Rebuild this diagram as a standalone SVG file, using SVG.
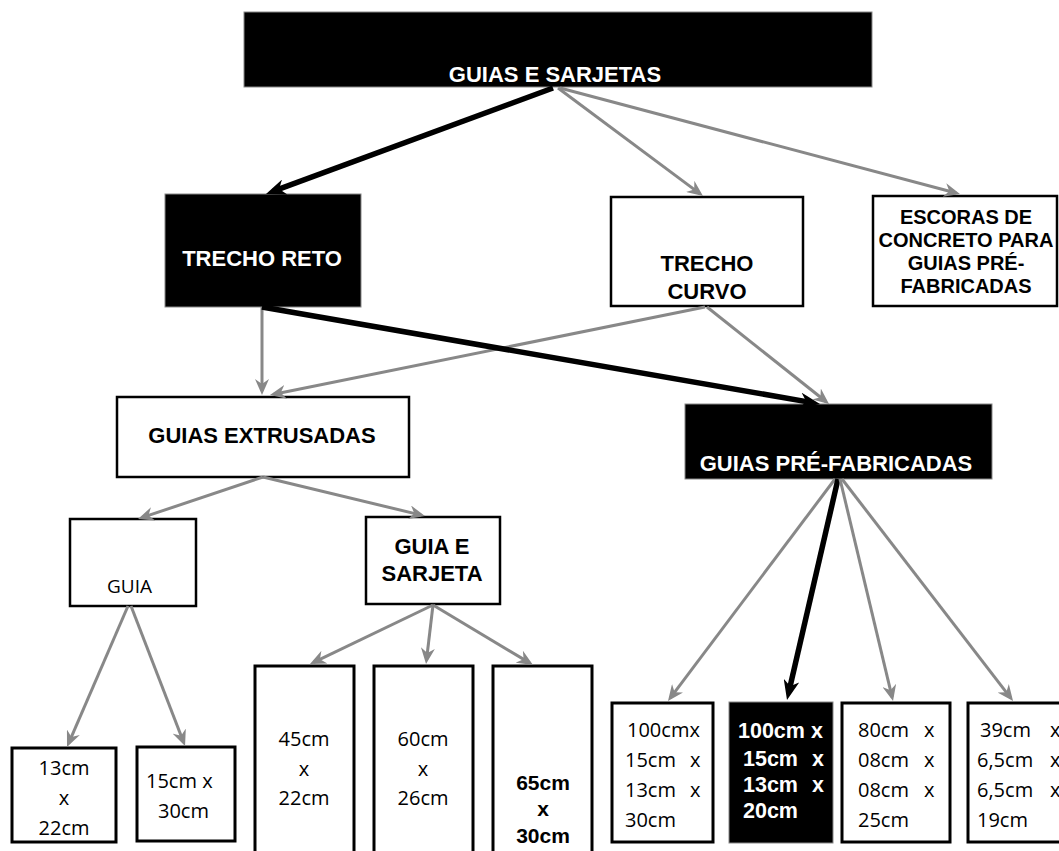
<svg xmlns="http://www.w3.org/2000/svg" width="1059" height="851" viewBox="0 0 1059 851">
<style>
.wb{fill:#fff;stroke:#000;stroke-width:2.5}
.bb{fill:#000;stroke:#888;stroke-width:1}
.hb{font-family:"Liberation Sans",Arial,sans-serif;font-weight:bold;font-size:22px;text-anchor:middle}
.w{fill:#fff}
.k{fill:#000}
.dim{font-family:"Open Sans","Liberation Sans",sans-serif;font-size:20px;fill:#000}
.c{text-anchor:middle}
.bd{font-family:"Liberation Sans",Arial,sans-serif;font-weight:bold;font-size:21px}
.g{fill:none;stroke:#888;stroke-width:3;marker-end:url(#ag)}
.b{fill:none;stroke:#000;stroke-width:5.5;marker-end:url(#ab)}
</style>
<defs>
<marker id="ag" viewBox="0 0 16 14" refX="12" refY="7" markerWidth="16" markerHeight="14" markerUnits="userSpaceOnUse" orient="auto"><path d="M0,0 L16,7 L0,14 L5,7 z" fill="#888"/></marker>
<marker id="ab" viewBox="0 0 20 16" refX="12" refY="8" markerWidth="20" markerHeight="16" markerUnits="userSpaceOnUse" orient="auto"><path d="M0,0 L20,8 L0,16 L6,8 z" fill="#000"/></marker>
</defs>
<rect width="1059" height="851" fill="#fff"/>
<g id="n-guias-sarjetas"><rect class="bb" x="244" y="12" width="628" height="75"/><text class="hb w" x="555" y="82">GUIAS E SARJETAS</text></g>
<g id="n-trecho-reto"><rect class="bb" x="165" y="194" width="196" height="113"/><text class="hb w" x="262" y="266">TRECHO RETO</text></g>
<g id="n-trecho-curvo"><rect class="wb" x="611" y="197" width="192" height="109"/><text class="hb k" x="707" y="271">TRECHO</text><text class="hb k" x="707" y="299">CURVO</text></g>
<g id="n-escoras"><rect class="wb" x="873" y="196" width="184" height="110"/><g class="hb k" style="font-size:20px"><text x="966" y="224">ESCORAS DE</text><text x="966" y="247">CONCRETO PARA</text><text x="966" y="270">GUIAS PRÉ-</text><text x="966" y="293">FABRICADAS</text></g></g>
<g id="n-extrusadas"><rect class="wb" x="117" y="397" width="292" height="80"/><text class="hb k" x="262" y="443">GUIAS EXTRUSADAS</text></g>
<g id="n-prefabricadas"><rect class="bb" x="685" y="404" width="307" height="75"/><text class="hb w" x="836" y="471">GUIAS PRÉ-FABRICADAS</text></g>
<g id="n-guia"><rect class="wb" x="70" y="519" width="126" height="87"/><text class="dim" style="font-size:19px" x="107" y="593">GUIA</text></g>
<g id="n-guia-sarjeta"><rect class="wb" x="366" y="517" width="134" height="87"/><text class="hb k" x="432" y="554">GUIA E</text><text class="hb k" x="432" y="581">SARJETA</text></g>
<g id="n-13x22"><rect class="wb" x="12" y="748" width="104" height="94" style="stroke-width:3"/><g class="dim c"><text x="64" y="775">13cm</text><text x="64" y="805">x</text><text x="64" y="835">22cm</text></g></g>
<g id="n-15x30"><rect class="wb" x="137" y="747" width="98" height="94" style="stroke-width:3"/><g class="dim"><text x="146" y="788">15cm x</text><text x="158" y="818">30cm</text></g></g>
<g id="n-45x22"><rect class="wb" x="255" y="666" width="99" height="200" style="stroke-width:3"/><g class="dim c"><text x="304" y="746">45cm</text><text x="304" y="776">x</text><text x="304" y="805">22cm</text></g></g>
<g id="n-60x26"><rect class="wb" x="374" y="666" width="99" height="200" style="stroke-width:3"/><g class="dim c"><text x="423" y="746">60cm</text><text x="423" y="776">x</text><text x="423" y="805">26cm</text></g></g>
<g id="n-65x30"><rect class="wb" x="493" y="666" width="99" height="200" style="stroke-width:3"/><g class="bd c"><text x="543" y="790">65cm</text><text x="543" y="816">x</text><text x="543" y="843">30cm</text></g></g>
<g id="n-pf1"><rect class="wb" x="612" y="703" width="101" height="139" style="stroke-width:3"/><g class="dim"><text x="627" y="737">100cmx</text><text y="767"><tspan x="625">15cm </tspan><tspan x="690">x</tspan></text><text y="797"><tspan x="625">13cm </tspan><tspan x="690">x</tspan></text><text x="625" y="827">30cm</text></g></g>
<g id="n-pf2"><rect x="729" y="702" width="104" height="141" fill="#000" stroke="#888" stroke-width="1"/><g class="bd w" style="font-size:21.5px"><text x="738" y="738">100cm x</text><text y="766"><tspan x="743">15cm </tspan><tspan x="812">x</tspan></text><text y="792"><tspan x="743">13cm </tspan><tspan x="812">x</tspan></text><text x="743" y="818">20cm</text></g></g>
<g id="n-pf3"><rect class="wb" x="842" y="703" width="108" height="139" style="stroke-width:3"/><g class="dim"><text y="737"><tspan x="858">80cm </tspan><tspan x="924">x</tspan></text><text y="767"><tspan x="858">08cm </tspan><tspan x="924">x</tspan></text><text y="797"><tspan x="858">08cm </tspan><tspan x="924">x</tspan></text><text x="858" y="827">25cm</text></g></g>
<g id="n-pf4"><rect class="wb" x="968" y="703" width="100" height="139" style="stroke-width:3"/><g class="dim"><text y="737"><tspan x="980">39cm </tspan><tspan x="1050">x</tspan></text><text y="767"><tspan x="977">6,5cm </tspan><tspan x="1050">x</tspan></text><text y="797"><tspan x="977">6,5cm </tspan><tspan x="1050">x</tspan></text><text x="977" y="827">19cm</text></g></g>
<g id="connectors">
<path class="b" d="M553,88 L273.5,191.2"/>
<path class="g" d="M558,88 L699.8,193.6"/>
<path class="g" d="M560,88 L956.1,193"/>
<path class="g" d="M262,307 L262,391"/>
<path class="g" d="M705,307 L273.9,394.2"/>
<path class="b" d="M262,307 L812.1,402.6"/>
<path class="g" d="M707,307 L825.9,401.5"/>
<path class="g" d="M263,477 L141.8,517.7"/>
<path class="g" d="M263,477 L421.1,515.1"/>
<path class="g" d="M128,606 L68.6,743.3"/>
<path class="g" d="M131,606 L183.6,742.3"/>
<path class="g" d="M433,605 L313.6,662.3"/>
<path class="g" d="M433,605 L426.5,660"/>
<path class="g" d="M433,605 L529.6,662.9"/>
<path class="g" d="M835,479 L670.4,697.8"/>
<path class="b" d="M838,479 L788.8,692.2"/>
<path class="g" d="M840,479 L892.1,697.1"/>
<path class="g" d="M842,479 L1010.6,697.8"/>
</g>
</svg>
